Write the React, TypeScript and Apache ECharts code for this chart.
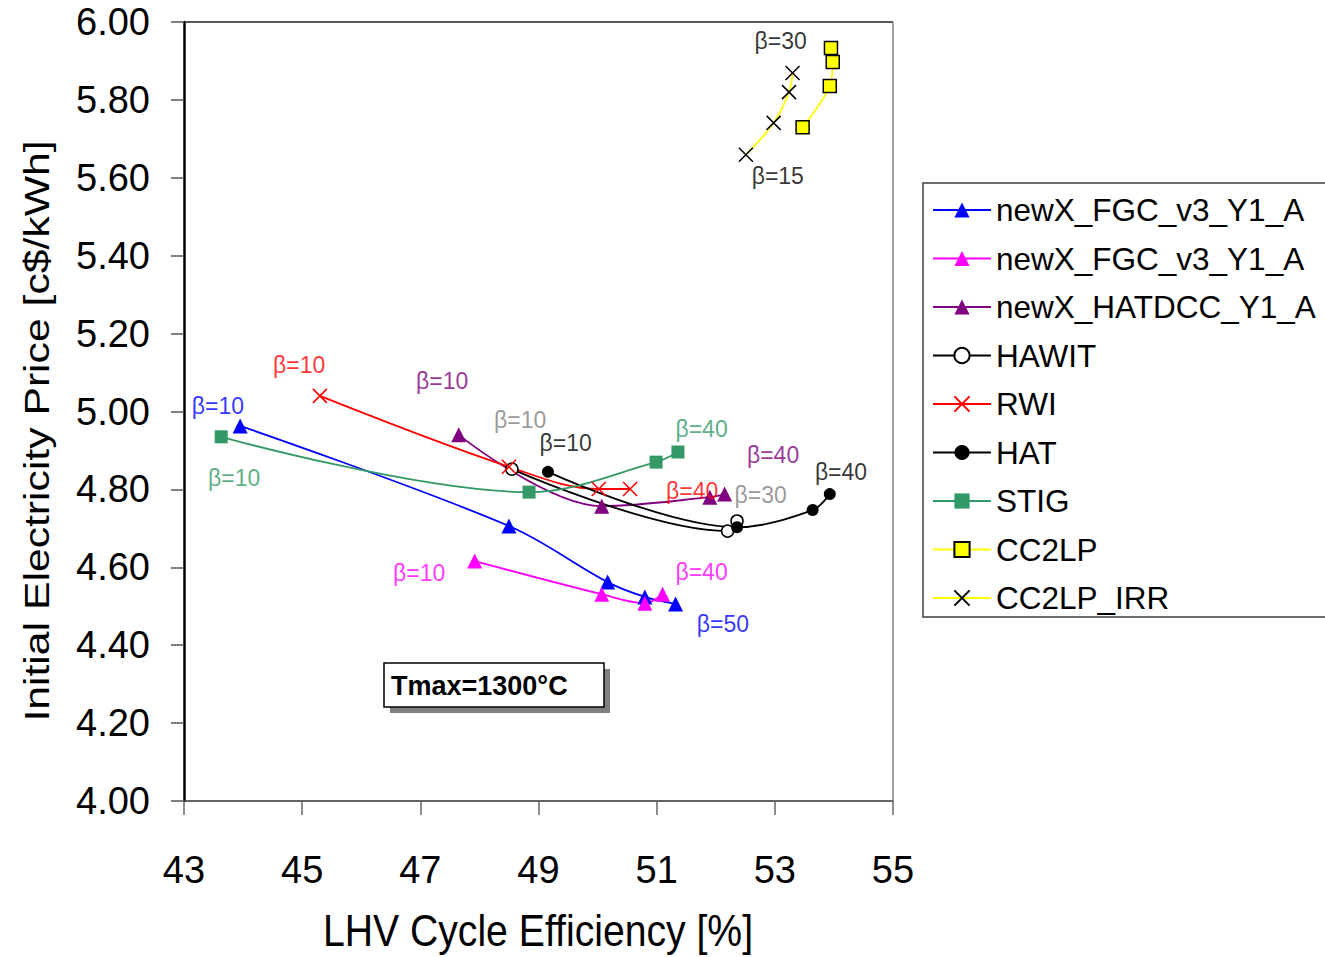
import React, { useEffect, useRef } from "react";
import * as echarts from "echarts";

// Efficiency [%] and initial electricity price [c$/kWh] for each cycle
const fgcBlueX = [43.95, 48.5, 50.17, 50.8, 51.32];
const fgcBlueY = [4.963, 4.706, 4.562, 4.524, 4.506];
const fgcPinkX = [47.92, 50.07, 50.8, 51.1];
const fgcPinkY = [4.616, 4.531, 4.508, 4.531];
const hatdccX = [47.65, 50.07, 51.9, 52.15];
const hatdccY = [4.94, 4.757, 4.78, 4.788];
const hawitX = [48.55, 52.2, 52.36];
const hawitY = [4.852, 4.693, 4.719];
const rwiX = [45.3, 48.5, 50.02, 50.55];
const rwiY = [5.04, 4.858, 4.801, 4.801];
const hatX = [49.16, 52.36, 53.64, 53.93];
const hatY = [4.845, 4.703, 4.747, 4.788];
const stigX = [43.63, 48.84, 50.99, 51.36];
const stigY = [4.935, 4.793, 4.87, 4.896];
const cc2lpX = [53.47, 53.93, 53.98, 53.95];
const cc2lpY = [5.73, 5.836, 5.897, 5.933];
const cc2lpIrrX = [52.51, 52.98, 53.24, 53.3];
const cc2lpIrrY = [5.659, 5.741, 5.82, 5.869];

// Pressure-ratio annotations: [x, y, text, colour]
const betaNotes: [number, number, string, string][] = [
  [43.575, 5.014, "β=10", "#0000FF"],
  [52.12, 4.455, "β=50", "#0000FF"],
  [44.95, 5.119, "β=10", "#FF0000"],
  [51.6, 4.796, "β=40", "#FF0000"],
  [47.37, 5.078, "β=10", "#800080"],
  [52.97, 4.888, "β=40", "#800080"],
  [48.69, 4.978, "β=10", "#808080"],
  [52.76, 4.786, "β=30", "#808080"],
  [49.46, 4.919, "β=10", "#000000"],
  [54.12, 4.845, "β=40", "#000000"],
  [51.76, 4.955, "β=40", "#339966"],
  [43.85, 4.829, "β=10", "#339966"],
  [46.98, 4.585, "β=10", "#FF00FF"],
  [51.76, 4.588, "β=40", "#FF00FF"],
  [53.1, 5.951, "β=30", "#000000"],
  [53.05, 5.605, "β=15", "#000000"],
];

const xTicks = { min: 43, max: 55, step: 2 };
const yTicks = { min: 4, max: 6, step: 0.2 };

const FONT = "'Liberation Sans', Arial, sans-serif";
const CROSS = "path://M0,0L10,10M10,0L0,10";

const zip = (xs: number[], ys: number[]) => xs.map((x, i) => [x, ys[i]]);

function lineSeries(
  name: string,
  xs: number[],
  ys: number[],
  lineColor: string,
  symbol: string,
  symbolSize: number,
  item: any
) {
  return {
    type: "line",
    name,
    data: zip(xs, ys),
    smooth: 0.35,
    symbol,
    symbolSize,
    showAllSymbol: true,
    lineStyle: { color: lineColor, width: 1.8 },
    itemStyle: item,
    emphasis: { disabled: true },
    z: 3,
  };
}

const legendNames = [
  "newX_FGC_v3_Y1_A",
  "newX_FGC_v3_Y1_A#2",
  "newX_HATDCC_Y1_A",
  "HAWIT",
  "RWI",
  "HAT",
  "STIG",
  "CC2LP",
  "CC2LP_IRR",
];

export default function App() {
  const ref = useRef<HTMLDivElement>(null);

  useEffect(() => {
    if (!ref.current) return;
    const chart = echarts.init(ref.current, undefined, { renderer: "svg" });

    const series: any[] = [
      lineSeries("newX_FGC_v3_Y1_A", fgcBlueX, fgcBlueY, "#0000FF", "triangle", 15, { color: "#0000FF" }),
      lineSeries("newX_FGC_v3_Y1_A#2", fgcPinkX, fgcPinkY, "#FF00FF", "triangle", 15, { color: "#FF00FF" }),
      lineSeries("newX_HATDCC_Y1_A", hatdccX, hatdccY, "#800080", "triangle", 15, { color: "#800080" }),
      lineSeries("HAWIT", hawitX, hawitY, "#000000", "circle", 12, {
        color: "#FFFFFF",
        borderColor: "#000000",
        borderWidth: 1.5,
      }),
      lineSeries("RWI", rwiX, rwiY, "#FF0000", CROSS, 14, {
        color: "#FF0000",
        borderColor: "#FF0000",
        borderWidth: 1.6,
      }),
      lineSeries("HAT", hatX, hatY, "#000000", "circle", 12, { color: "#000000" }),
      lineSeries("STIG", stigX, stigY, "#339966", "rect", 13, { color: "#339966" }),
      lineSeries("CC2LP", cc2lpX, cc2lpY, "#FFFF00", "rect", 13, {
        color: "#FFFF00",
        borderColor: "#000000",
        borderWidth: 1.5,
      }),
      lineSeries("CC2LP_IRR", cc2lpIrrX, cc2lpIrrY, "#FFFF00", CROSS, 14, {
        color: "#000000",
        borderColor: "#000000",
        borderWidth: 1.5,
      }),
      {
        type: "scatter",
        name: "beta",
        symbolSize: 0,
        silent: true,
        z: 10,
        data: betaNotes.map(([x, y, t, c]) => ({
          value: [x, y],
          label: {
            show: true,
            position: "inside",
            formatter: t,
            color: c,
            fontSize: 23,
            fontFamily: FONT,
          },
        })),
      },
    ];

    chart.setOption({
      animation: false,
      backgroundColor: "#FFFFFF",
      textStyle: { fontFamily: FONT },
      grid: {
        left: 184,
        top: 22,
        width: 709,
        height: 779,
        show: true,
        borderColor: "transparent",
        backgroundColor: "#FFFFFF",
      },
      xAxis: {
        type: "value",
        min: xTicks.min,
        max: xTicks.max,
        interval: xTicks.step,
        axisLine: { show: true, lineStyle: { color: "#333333", width: 1.5 } },
        axisTick: { show: true, length: 14, lineStyle: { color: "#666666", width: 1.5 } },
        splitLine: { show: false },
        axisLabel: { fontSize: 38, color: "#000000", margin: 50, fontFamily: FONT },
      },
      yAxis: {
        type: "value",
        min: yTicks.min,
        max: yTicks.max,
        interval: yTicks.step,
        axisLine: { show: true, lineStyle: { color: "#000000", width: 2.5 } },
        axisTick: { show: true, length: 13, lineStyle: { color: "#555555", width: 1.5 } },
        splitLine: { show: false },
        axisLabel: {
          fontSize: 38,
          color: "#000000",
          margin: 34,
          padding: [7, 0, 0, 0],
          fontFamily: FONT,
          formatter: (v: number) => v.toFixed(2),
        },
      },
      legend: {
        data: legendNames,
        orient: "vertical",
        left: 932,
        top: 192,
        padding: 0,
        itemGap: 12.5,
        itemWidth: 58,
        itemHeight: 19,
        selectedMode: false,
        formatter: (n: string) => n.replace("#2", ""),
        textStyle: { fontSize: 31.5, lineHeight: 36, color: "#000000", fontFamily: FONT },
      },
      series,
      graphic: [
        // plot frame: top and right edges
        {
          type: "line",
          shape: { x1: 184, y1: 22, x2: 893, y2: 22 },
          style: { stroke: "#222222", lineWidth: 1.5 },
          z: 1,
        },
        {
          type: "line",
          shape: { x1: 893, y1: 22, x2: 893, y2: 801 },
          style: { stroke: "#808080", lineWidth: 1.5 },
          z: 1,
        },
        // legend frame
        {
          type: "rect",
          shape: { x: 923, y: 183, width: 420, height: 434 },
          style: { fill: "none", stroke: "#404040", lineWidth: 1.5 },
          z: 1,
        },
        // axis titles
        {
          type: "text",
          x: 538,
          y: 931,
          scaleX: 0.89,
          style: {
            text: "LHV Cycle Efficiency [%]",
            fontSize: 44,
            fontFamily: FONT,
            fill: "#000000",
            align: "center",
            verticalAlign: "middle",
          },
        },
        {
          type: "text",
          x: 37,
          y: 431,
          rotation: Math.PI / 2,
          scaleX: 1.22,
          style: {
            text: "Initial Electricity Price [c$/kWh]",
            fontSize: 35,
            fontFamily: FONT,
            fill: "#000000",
            align: "center",
            verticalAlign: "middle",
          },
        },
        // temperature note box with drop shadow
        {
          type: "rect",
          shape: { x: 390, y: 669, width: 220, height: 44 },
          style: { fill: "#808080" },
          z: 5,
        },
        {
          type: "rect",
          shape: { x: 384, y: 663, width: 220, height: 44 },
          style: { fill: "#FFFFFF", stroke: "#000000", lineWidth: 1.5 },
          z: 6,
        },
        {
          type: "text",
          x: 391,
          y: 686,
          z: 7,
          style: {
            text: "Tmax=1300°C",
            fontSize: 27,
            fontWeight: "bold",
            fontFamily: FONT,
            fill: "#000000",
            align: "left",
            verticalAlign: "middle",
          },
        },
      ],
    });

    return () => chart.dispose();
  }, []);

  return (
    <div
      ref={ref}
      style={{ position: "fixed", left: 0, top: 0, width: 1325, height: 957 }}
    />
  );
}
